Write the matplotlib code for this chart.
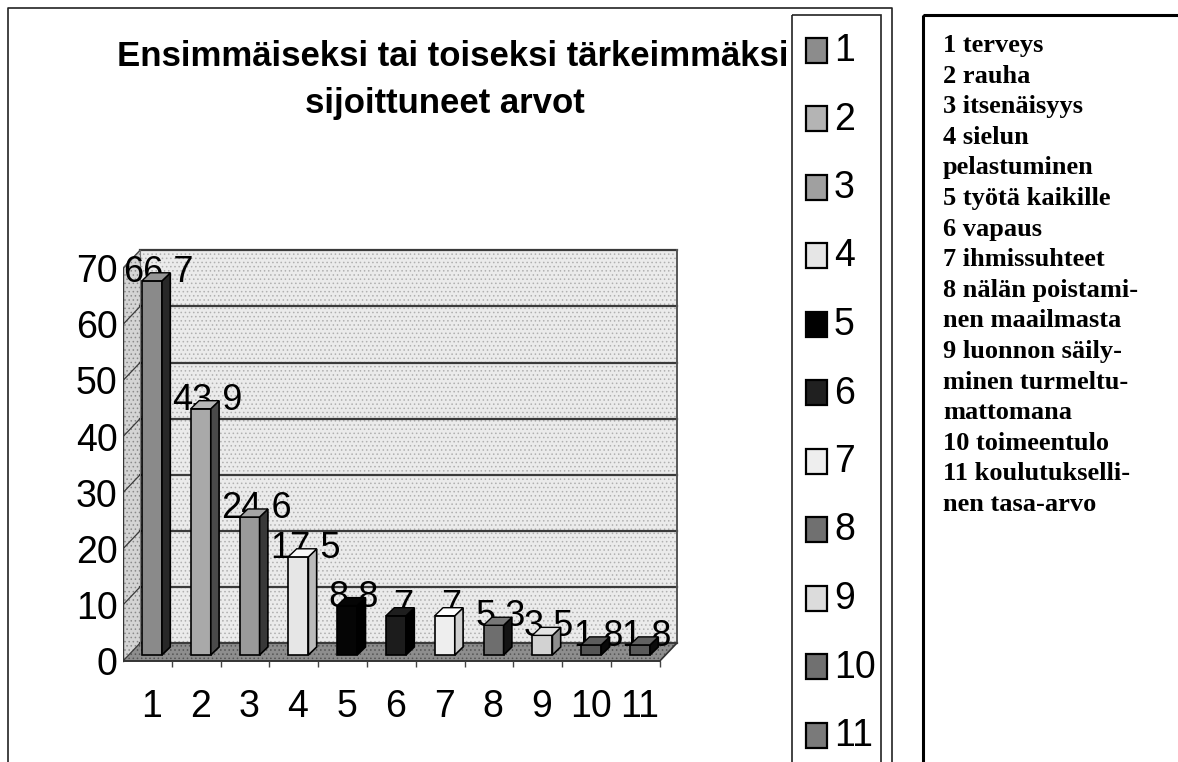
import matplotlib
matplotlib.use("Agg")
import matplotlib.pyplot as plt
from matplotlib.patches import Polygon, Rectangle
import numpy as np

# ---------------- data ----------------
categories = ["1", "2", "3", "4", "5", "6", "7", "8", "9", "10", "11"]
values = [66.7, 43.9, 24.6, 17.5, 8.8, 7, 7, 5.3, 3.5, 1.8, 1.8]
value_labels = ["66,7", "43,9", "24,6", "17,5", "8,8", "7", "7", "5,3", "3,5", "1,8", "1,8"]
yticks = [0, 10, 20, 30, 40, 50, 60, 70]
bar_colors = ["#8a8a8a", "#a9a9a9", "#9a9a9a", "#e6e6e6", "#050505", "#1c1c1c",
              "#eeeeee", "#6e6e6e", "#d2d2d2", "#555555", "#5a5a5a"]
legend_colors = ["#8c8c8c", "#b4b4b4", "#a0a0a0", "#e6e6e6", "#000000", "#202020",
                 "#eeeeee", "#707070", "#dcdcdc", "#707070", "#7a7a7a"]
title = "Ensimmäiseksi tai toiseksi tärkeimmäksi\nsijoittuneet arvot"
explanation_lines = ["1 terveys", "2 rauha", "3 itsenäisyys", "4 sielun", "pelastuminen",
                     "5 työtä kaikille", "6 vapaus", "7 ihmissuhteet", "8 nälän poistami-",
                     "nen maailmasta", "9 luonnon säily-", "minen turmeltu-", "mattomana",
                     "10 toimeentulo", "11 koulutukselli-", "nen tasa-arvo"]

SANS = ["Liberation Sans", "DejaVu Sans"]
SERIF = ["Liberation Serif", "DejaVu Serif"]
plt.rcParams["font.family"] = SANS
plt.rcParams["hatch.linewidth"] = 0.6

W, H = 1178, 762
fig = plt.figure(figsize=(W / 100, H / 100), dpi=100)
fig.patch.set_facecolor("white")

# background / overlay axes in pixel coordinates
bg = fig.add_axes([0, 0, 1, 1])
bg.set_xlim(0, W)
bg.set_ylim(H, 0)
bg.axis("off")

# frames
frame_c = "#222222"
bg.plot([8, 8, 892, 892], [H + 5, 8, 8, H + 5], color=frame_c, lw=1.2)
bg.add_patch(Rectangle((792, 15), 89, H + 20, fill=False, ec=frame_c, lw=1.2))
bg.add_patch(Rectangle((923, 15), 300, H + 20, fill=False, ec="black", lw=2.2))

# title
t1, t2 = title.split("\n")
bg.text(453, 56, t1, ha="center", va="center", fontsize=25, fontweight="bold", family=SANS)
bg.text(445, 104, t2, ha="center", va="center", fontsize=25, fontweight="bold", family=SANS)

# legend
for i, (lab, col) in enumerate(zip(categories, legend_colors)):
    y = 50 + 68.5 * i
    bg.add_patch(Rectangle((806, y - 12.5), 21, 25, fc=col, ec="black", lw=1.6))
    bg.text(834, y + 1, lab, ha="left", va="center", fontsize=27, family=SANS)

# explanation text box
for k, line in enumerate(explanation_lines):
    bg.text(943, 52 + 30.6 * k, line, ha="left", va="baseline", fontsize=19,
            fontweight="bold", family=SERIF)

# ---------------- chart axes ----------------
PX0, PXS, PY0, PYS = 123, 48.8, 661, 5.61
XL = (0, 11.6)
YL = (-1.6, 75)
left_px = PX0 + PXS * XL[0]
right_px = PX0 + PXS * XL[1]
top_px = PY0 - PYS * YL[1]
bot_px = PY0 - PYS * YL[0]
ax = fig.add_axes([left_px / W, 1 - bot_px / H, (right_px - left_px) / W, (bot_px - top_px) / H])
ax.set_xlim(XL)
ax.set_ylim(YL)
ax.patch.set_alpha(0)
for s in ax.spines.values():
    s.set_visible(False)

n = len(values)
YMAX = max(yticks)
DX, DY = 0.35, 3.2  # depth of the 3-D box

# back wall
ax.add_patch(Polygon([(DX, DY), (n + DX, DY), (n + DX, YMAX + DY), (DX, YMAX + DY)],
                     closed=True, fc="#ebebeb", ec="#b0b0b0", lw=0, hatch="....", zorder=1))
# side wall
ax.add_patch(Polygon([(0, 0), (DX, DY), (DX, YMAX + DY), (0, YMAX)],
                     closed=True, fc="#d4d4d4", ec="#8a8a8a", lw=0, hatch="....", zorder=1))
# floor
ax.add_patch(Polygon([(0, 0), (n, 0), (n + DX, DY), (DX, DY)],
                     closed=True, fc="#8e8e8e", ec="#555555", lw=0, hatch="....", zorder=2))
# gridlines on wall and diagonal ticks on side wall
for v in yticks:
    ax.plot([DX, n + DX], [v + DY, v + DY], color="#3a3a3a", lw=1.6, zorder=2)
    ax.plot([0, DX], [v, v + DY], color="#3a3a3a", lw=0.9, zorder=2)
# box edges
ax.plot([n + DX, n + DX], [DY, YMAX + DY], color="#555555", lw=1.4, zorder=2)
ax.plot([DX, DX], [DY, YMAX + DY], color="#777777", lw=0.8, zorder=2)
ax.plot([0, DX], [YMAX, YMAX + DY], color="#555555", lw=1.0, zorder=2)
ax.plot([n, n + DX], [0, DY], color="#333333", lw=1.2, zorder=2)
ax.plot([0, 0], [0, YMAX], color="#333333", lw=1.0, zorder=2)
ax.plot([0, n], [0, 0], color="#333333", lw=1.4, zorder=2)
ax.vlines(np.arange(1, n + 1), -1.1, 0, color="#444444", lw=1.0, zorder=2)

# bars (front faces from ax.bar, side/top faces from their geometry)
BOX, BW, BB = 0.094, 0.41, 1.07
SDX, SDY = 0.17, 1.43
xs = np.arange(n) + 0.5 + BOX
bars = ax.bar(xs, values, width=BW, bottom=BB, color=bar_colors, edgecolor="black",
              linewidth=1.2, zorder=6)
for r, col in zip(bars, bar_colors):
    x0 = r.get_x()
    x1 = x0 + r.get_width()
    y0 = r.get_y()
    y1 = y0 + r.get_height()
    rgb = np.array(matplotlib.colors.to_rgb(col))
    side = tuple(rgb ** 3)
    top = tuple(np.clip(rgb * 1.08, 0, 1))
    ax.add_patch(Polygon([(x1, y0), (x1 + SDX, y0 + SDY), (x1 + SDX, y1 + SDY), (x1, y1)],
                         closed=True, fc=side, ec="black", lw=1.2, zorder=6))
    ax.add_patch(Polygon([(x0, y1), (x1, y1), (x1 + SDX, y1 + SDY), (x0 + SDX, y1 + SDY)],
                         closed=True, fc=top, ec="black", lw=1.0, zorder=6))

# value labels (behind bars, as in the original)
for x, v, lab in zip(xs, values, value_labels):
    ax.text(x + 0.14, v + BB + 1.6, lab, ha="center", va="center", fontsize=26,
            family=SANS, zorder=5)

ax.set_yticks(yticks)
ax.set_yticklabels([str(t) for t in yticks], fontsize=27, family=SANS)
ax.tick_params(axis="y", length=0, pad=4)
ax.set_xticks(np.arange(n) + 0.58)
ax.set_xticklabels(categories, fontsize=27, family=SANS)
ax.tick_params(axis="x", length=0, pad=14)

fig.savefig("out.png", dpi=100, facecolor="white")
